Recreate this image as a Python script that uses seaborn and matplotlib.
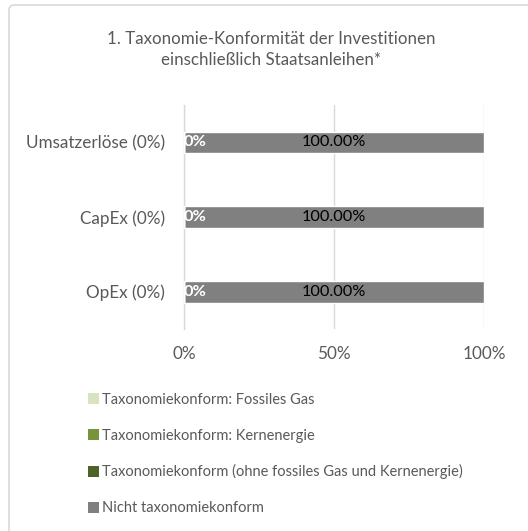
import matplotlib.pyplot as plt
import pandas as pd
import seaborn as sns
from matplotlib.patches import Patch, FancyBboxPatch

categories = ["Umsatzerlöse (0%)", "CapEx (0%)", "OpEx (0%)"]
fossil_gas = [0, 0, 0]
nuclear = [0, 0, 0]
aligned_other = [0, 0, 0]
not_aligned = [100, 100, 100]
value_labels = ["100.00%", "100.00%", "100.00%"]
zero_labels = ["0%", "0%", "0%"]

series_names = [
    "Taxonomiekonform: Fossiles Gas",
    "Taxonomiekonform: Kernenergie",
    "Taxonomiekonform (ohne fossiles Gas und Kernenergie)",
    "Nicht taxonomiekonform",
]
colors = ["#d7e4bd", "#77933c", "#4f6228", "#808080"]

sns.set_style("white")
plt.rcParams['font.family'] = ['Lato', 'DejaVu Sans']

df = pd.DataFrame({
    'cat': categories,
    'gas': fossil_gas,
    'nuc': nuclear,
    'other': aligned_other,
    'not': not_aligned,
})
# cumulative sums for stacking
df['c1'] = df['gas']
df['c2'] = df['c1'] + df['nuc']
df['c3'] = df['c2'] + df['other']
df['c4'] = df['c3'] + df['not']

fig = plt.figure(figsize=(5.28, 5.31), dpi=100)
ax = fig.add_axes([0.3485, 0.3804, 0.5682, 0.4218])

text_grey = "#595959"
line_grey = "#d9d9d9"

# draw from the total down so each layer shows its own segment
for col, color in zip(['c4', 'c3', 'c2', 'c1'], colors[::-1]):
    sns.barplot(data=df, x=col, y='cat', orient='h', color=color,
                saturation=1, width=0.29, ax=ax, zorder=3)

ax.bar_label(ax.containers[0], labels=value_labels, label_type='center',
             color='black', fontsize=11.8)
for i, row in df.iterrows():
    ax.text(row['c2'], i, zero_labels[i], ha='left', va='center',
            color='white', fontsize=11.8, fontweight='bold', zorder=4)

ax.set_xlim(0, 100)
ax.set_ylim(2.5, -0.5)
ax.set_xticks([0, 50, 100])
ax.set_xticklabels(["0%", "50%", "100%"])
ax.set_xlabel('')
ax.set_ylabel('')
ax.xaxis.grid(True, color=line_grey, lw=1, zorder=0)
ax.set_axisbelow(True)

ax.set_yticks([-0.5, 0.5, 1.5, 2.5], minor=True)
ax.tick_params(axis='y', which='minor', length=4, color=line_grey, width=1)
ax.tick_params(axis='y', which='major', length=0, pad=13.5,
               labelsize=12.3, labelcolor=text_grey)
ax.tick_params(axis='x', length=0, pad=12, labelsize=12.3, labelcolor=text_grey)

for s in ['top', 'right', 'bottom']:
    ax.spines[s].set_visible(False)
ax.spines['left'].set_color(line_grey)
ax.spines['left'].set_linewidth(1)

fig.text(0.513, 0.9068,
         "1. Taxonomie-Konformität der Investitionen\neinschließlich Staatsanleihen*",
         ha='center', va='center', fontsize=12.2, color=text_grey, linespacing=1.43)

handles = [Patch(facecolor=c, edgecolor='none') for c in colors]
fig.legend(handles, series_names, loc='upper left',
           bbox_to_anchor=(0.155, 0.2715), frameon=False, fontsize=10.5,
           labelcolor=text_grey, handlelength=0.75, handleheight=0.75,
           handletextpad=0.2, labelspacing=1.5, borderaxespad=0)

border = FancyBboxPatch((9 / 528, -0.05), 1.1, 1.05 - 5 / 531,
                        boxstyle="round,pad=0,rounding_size=0.01",
                        transform=fig.transFigure, facecolor='none',
                        edgecolor=line_grey, lw=1.2)
fig.patches.append(border)

fig.savefig('out.png', dpi=100)
